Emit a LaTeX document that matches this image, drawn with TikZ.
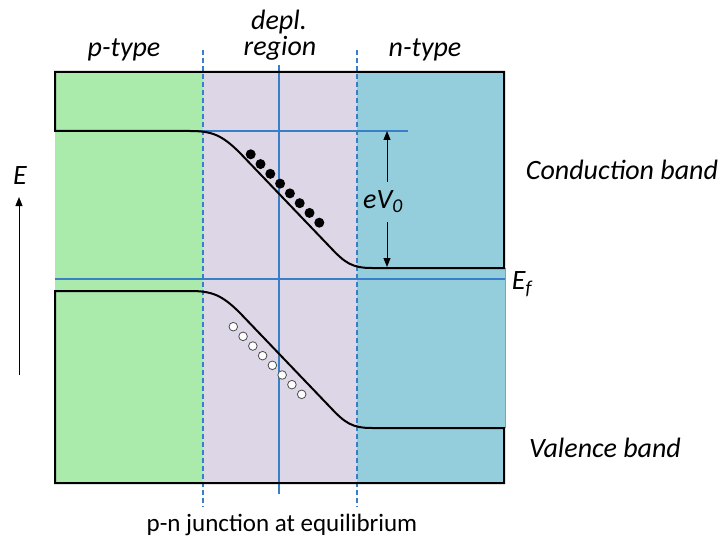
\documentclass[tikz,border=0pt]{standalone}
\usepackage{fontspec}
\setmainfont{Carlito}
\usetikzlibrary{arrows.meta}
\definecolor{pgreen}{RGB}{170,234,171}
\definecolor{dlav}{RGB}{221,214,230}
\definecolor{nblue}{RGB}{148,205,220}
\definecolor{lblue}{RGB}{55,128,200}
\begin{document}
\begin{tikzpicture}[x=1pt,y=-1pt,
  lab/.style={font=\fontsize{28}{31}\selectfont\itshape, inner sep=0pt},
  caption/.style={font=\fontsize{25}{28}\selectfont, inner sep=0pt},
  band/.style={draw=black, line width=2pt, line join=miter},
  bl/.style={draw=lblue, line width=1.3pt},
  bldash/.style={draw=lblue, line width=1.3pt, dash pattern=on 5pt off 3pt},
  arr/.style={line width=1pt, -{Triangle[length=9pt,width=7pt]}},
  electron/.style={fill=black},
  hole/.style={fill=white, draw=black!70, line width=0.8pt}]
\useasboundingbox (0,0) rectangle (725,548);
% region fills
\fill[pgreen] (55,72) rectangle (203,483);
\fill[dlav] (203,72) rectangle (357,483);
\fill[nblue] (357,72) rectangle (505,483);
\draw[black!40, line width=0.8pt] (505,268) -- (505,428);
% blue guide lines
\draw[bl] (279,65) -- (279,494);
\draw[bl] (55,131) -- (408,131);
\draw[bl] (55,279) -- (505,279);
\draw[bldash] (203,50) -- (203,507);
\draw[bldash] (357,50) -- (357,507);
% conduction band
\draw[band] (504,268) -- (504,72) -- (55,72) -- (55,131) -- (190,131)
  .. controls (212,131) and (222,135) .. (240,153) -- (330,247)
  .. controls (345,263) and (352,268) .. (372,268) -- cycle;
% valence band
\draw[band] (55,291) -- (190,291)
  .. controls (212,291) and (222,295) .. (240,313) -- (330,407)
  .. controls (345,423) and (352,428) .. (372,428) -- (504,428) -- (504,483) -- (55,483) -- cycle;
% electrons and holes
\foreach \i in {0,...,7} \fill[electron] (250.7+9.8*\i, 154.3+9.77*\i) circle (5);
\foreach \i in {0,...,7} \draw[hole] (233.3+9.77*\i, 326.7+9.66*\i) circle (4.3);
% eV0
\node[lab] (ev) at (383,202) {eV\textsubscript{0}};
\coordinate (evtop) at (387,131);
\coordinate (evbot) at (387,267);
\coordinate (evup) at (387,182);
\coordinate (evdn) at (387,222);
\draw[arr] (evup) -- (evtop);
\draw[arr] (evdn) -- (evbot);
% energy axis
\node[lab] (E) at (20,176) {E};
\coordinate (Ebot) at (19,375);
\coordinate (Etop) at (19,197);
\draw[arr] (Ebot) -- (Etop);
% labels
\node[lab] (ptype) at (124,50) {p-type};
\node[lab] (depl) at (279,22) {depl.};
\node[lab] (region) at (280,48) {region};
\node[lab] (ntype) at (425,50) {n-type};
\node[lab] (cb) at (622,170) {Conduction band};
\node[lab] (vb) at (605,448) {Valence band};
\node[lab] (ef) at (522,284) {E\textsubscript{f}};
\node[caption] (cap) at (282,525) {p-n junction at equilibrium};
\end{tikzpicture}
\end{document}
